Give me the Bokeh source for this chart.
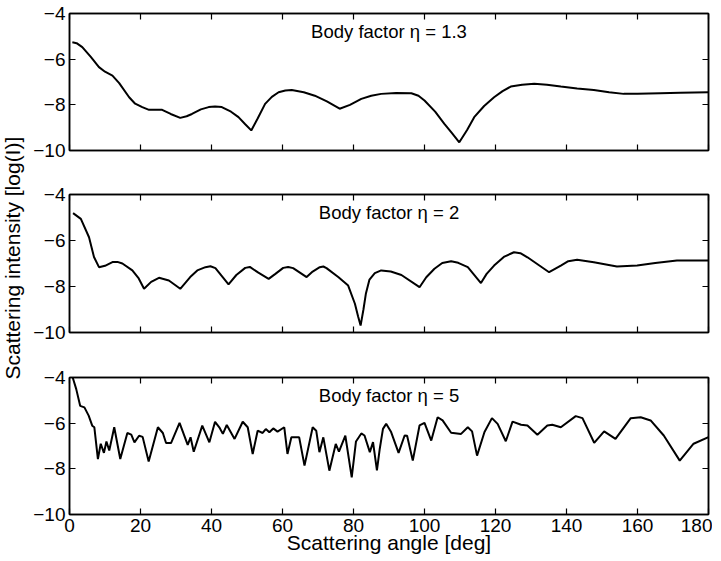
import math
from bokeh.plotting import figure
from bokeh.models import Range1d, LinearAxis, FixedTicker, CustomJSTickFormatter, Label
from bokeh.layouts import column, row
from bokeh.embed import file_html
from bokeh.resources import INLINE

# ---- data ----
titles = ["Body factor \u03b7 = 1.3", "Body factor \u03b7 = 2", "Body factor \u03b7 = 5"]
x_label = "Scattering angle [deg]"
y_label = "Scattering intensity [log(I)]"
x_ticks = [0, 20, 40, 60, 80, 100, 120, 140, 160, 180]
y_ticks = [-10, -8, -6, -4]

x1 = [0.8, 2, 3.6, 6, 8.3, 10, 12.1, 14, 16.8, 18.5, 20.5, 22.4, 24.5, 26.1, 28.5, 31.2, 33, 34.5,
      37, 39.2, 41, 42.9, 45.5, 47.6, 49.5, 51.2, 53, 55.1, 57, 58.9, 60.8, 62.6, 66, 69.1, 72.5,
      76.1, 79, 82.2, 85, 87.8, 92, 96.3, 98.3, 100, 103, 105.6, 107.8, 109.8, 112, 114, 116.8,
      119.6, 122, 124.3, 127.5, 130.9, 134.5, 138.4, 143, 147.7, 152, 156.1, 160, 166.4, 172, 180]
y1 = [-5.26, -5.3, -5.47, -5.9, -6.35, -6.55, -6.72, -7.05, -7.67, -7.95, -8.1, -8.22, -8.22, -8.22,
      -8.4, -8.57, -8.5, -8.4, -8.2, -8.1, -8.07, -8.1, -8.3, -8.54, -8.85, -9.12, -8.6, -7.96,
      -7.65, -7.45, -7.37, -7.35, -7.45, -7.6, -7.85, -8.17, -8.0, -7.74, -7.6, -7.52, -7.48,
      -7.49, -7.6, -7.81, -8.3, -8.83, -9.25, -9.64, -9.1, -8.54, -8.05, -7.67, -7.4, -7.2, -7.12,
      -7.08, -7.12, -7.2, -7.28, -7.35, -7.45, -7.52, -7.52, -7.49, -7.47, -7.45]

x2 = [1.0, 3.2, 5.5, 6.9, 8.3, 10, 12.1, 13.5, 14.9, 17.7, 19.5, 21, 23, 25.2, 28, 31.2, 34, 36,
      38.3, 39.7, 41.1, 44.8, 47, 49.5, 50.8, 53.2, 56.1, 58, 60.2, 61.6, 63, 66.8, 68.5, 70.5,
      71.5, 72.4, 75.7, 78.5, 80.4, 81.3, 82.0, 82.8, 83.5, 84.5, 86, 87.8, 90.5, 93.5, 98.6,
      100.5, 102.8, 105, 107.5, 109.5, 112.2, 115.9, 117.5, 119.6, 122.5, 125.2, 127, 129, 135.1,
      138.4, 140.5, 143, 147.7, 154.2, 159.9, 165, 171.1, 180]
y2 = [-4.81, -5.06, -5.86, -6.72, -7.16, -7.1, -6.94, -6.93, -7.0, -7.3, -7.65, -8.1, -7.8, -7.62,
      -7.74, -8.1, -7.59, -7.3, -7.16, -7.12, -7.2, -7.91, -7.5, -7.19, -7.15, -7.4, -7.67, -7.45,
      -7.19, -7.15, -7.2, -7.59, -7.35, -7.16, -7.13, -7.2, -7.59, -7.96, -8.75, -9.3, -9.7, -9.0,
      -8.3, -7.7, -7.42, -7.3, -7.35, -7.5, -8.03, -7.6, -7.23, -6.98, -6.9, -6.97, -7.16, -7.85,
      -7.45, -7.09, -6.7, -6.51, -6.55, -6.73, -7.38, -7.09, -6.9, -6.84, -6.95, -7.13, -7.09,
      -6.98, -6.87, -6.87]

x3 = [0.9, 1.9, 3.0, 4.2, 5.4, 6.4, 7.0, 8.0, 8.8, 9.7, 10.4, 11.2, 12.6, 14.3, 16.3, 17.4, 18.3,
      19.6, 20.6, 22.3, 24.9, 26.3, 27.2, 28.6, 31.0, 33.3, 34.1, 35.0, 37.4, 39.4, 41.0, 42.2,
      43.2, 44.3, 46.5, 48.8, 50.2, 51.6, 53.0, 54.4, 55.3, 56.3, 57.4, 58.6, 60.5, 61.4, 62.5,
      64.7, 66.2, 68.5, 69.5, 70.4, 71.5, 73.2, 75.0, 75.9, 77.7, 79.5, 80.7, 82.2, 83.1, 84.6,
      85.5, 86.6, 87.4, 88.3, 89.2, 90.6, 92.7, 94.4, 95.1, 96.7, 98.6, 100, 101.9, 103.7, 105.1,
      107.5, 110.3, 112.2, 113.4, 114.8, 116.9, 119.0, 120.6, 122.9, 124.8, 127.2, 129.0, 131.8,
      134.6, 136.0, 138.4, 142.6, 144.5, 147.8, 150.6, 153.8, 158.1, 160.9, 163.7, 167.4, 171.9,
      175.8, 180]
y3 = [-4.0, -4.51, -5.24, -5.31, -5.67, -6.11, -6.18, -7.57, -6.9, -7.3, -6.8, -7.2, -6.18, -7.57,
      -6.43, -6.5, -6.84, -6.55, -6.6, -7.68, -6.18, -6.43, -6.87, -6.87, -5.99, -6.95, -6.62,
      -7.25, -6.11, -6.84, -5.94, -6.18, -6.47, -6.08, -6.69, -5.94, -6.18, -7.35, -6.33, -6.43,
      -6.26, -6.4, -6.23, -6.37, -6.18, -7.35, -6.62, -6.62, -7.86, -6.18, -6.33, -7.27, -6.62,
      -8.08, -6.91, -7.25, -6.55, -8.37, -6.8, -6.45, -6.54, -7.27, -6.83, -8.07, -7.12, -6.25,
      -6.03, -6.39, -7.3, -6.54, -6.55, -7.64, -6.1, -5.99, -6.76, -5.74, -5.88, -6.42, -6.47,
      -6.18, -6.36, -7.42, -6.39, -5.78, -6.03, -6.79, -5.93, -6.07, -6.1, -6.51, -6.1, -6.07,
      -6.18, -5.69, -5.78, -6.86, -6.36, -6.69, -5.78, -5.74, -5.88, -6.54, -7.64, -6.9, -6.61]

FONT = "Liberation Sans"
minus_fmt = CustomJSTickFormatter(code="return tick < 0 ? '\u2212' + Math.abs(tick) : String(tick);")
blank_fmt = CustomJSTickFormatter(code="return '';")


def style_axis(ax, show_labels):
    ax.axis_line_color = "black"
    ax.axis_line_width = 1.5
    ax.major_tick_line_color = "black"
    ax.major_tick_line_width = 1.2
    ax.major_tick_in = 6
    ax.major_tick_out = 0
    ax.minor_tick_line_color = None
    if show_labels:
        ax.major_label_text_font = FONT
        ax.major_label_text_font_size = "19px"
        ax.major_label_text_color = "black"
        ax.major_label_standoff = 4
    else:
        ax.major_label_text_font_size = "0px"
        ax.major_label_standoff = 0
        ax.formatter = blank_fmt


def make_panel(xs, ys, title, height, top, bottom, bottom_labels=False):
    p = figure(width=682, height=height, x_range=Range1d(0, 180), y_range=Range1d(-10, -4),
               output_backend="svg", toolbar_location=None,
               min_border_left=37, min_border_right=4, min_border_top=top, min_border_bottom=bottom,
               x_axis_location=None, y_axis_location=None)
    p.xgrid.visible = False
    p.ygrid.visible = False
    p.outline_line_color = "black"
    p.outline_line_width = 1.5
    p.background_fill_color = "white"
    p.border_fill_color = "white"

    xb = LinearAxis(ticker=FixedTicker(ticks=x_ticks))
    style_axis(xb, bottom_labels)
    if bottom_labels:
        xb.major_label_standoff = 4
        xb.axis_label = x_label
        xb.axis_label_text_font = FONT
        xb.axis_label_text_font_size = "21px"
        xb.axis_label_text_font_style = "normal"
        xb.axis_label_text_color = "black"
        xb.axis_label_standoff = -4
    p.add_layout(xb, "below")
    xt = LinearAxis(ticker=FixedTicker(ticks=x_ticks))
    style_axis(xt, False)
    p.add_layout(xt, "above")

    yl = LinearAxis(ticker=FixedTicker(ticks=y_ticks))
    style_axis(yl, True)
    yl.formatter = minus_fmt
    p.add_layout(yl, "left")
    yr = LinearAxis(ticker=FixedTicker(ticks=y_ticks))
    style_axis(yr, False)
    p.add_layout(yr, "right")

    p.line(xs, ys, line_color="black", line_width=2)
    p.add_layout(Label(x=90, y=-4.8, text=title, text_align="center", text_baseline="middle",
                       text_font=FONT, text_font_size="18.5px", text_color="black"))
    return p


p1 = make_panel(x1, y1, titles[0], 172, 13, 22)
p2 = make_panel(x2, y2, titles[1], 182, 22, 22)
p3 = make_panel(x3, y3, titles[2], 206, 23, 46, bottom_labels=True)

# narrow figure carrying the shared y-axis label
lab = figure(width=30, height=560, x_range=Range1d(0, 1), y_range=Range1d(0, 1),
             output_backend="svg", toolbar_location=None, min_border=0,
             x_axis_location=None, y_axis_location=None)
lab.xgrid.visible = False
lab.ygrid.visible = False
lab.outline_line_color = None
lab.add_layout(Label(x=0.4, y=0.54, text=y_label, angle=math.pi / 2, text_align="center",
                     text_baseline="middle", text_font=FONT, text_font_size="21px",
                     text_color="black"))

layout = row(lab, column(p1, p2, p3, spacing=0), spacing=0)
open("out.html", "w").write(file_html(layout, INLINE))
